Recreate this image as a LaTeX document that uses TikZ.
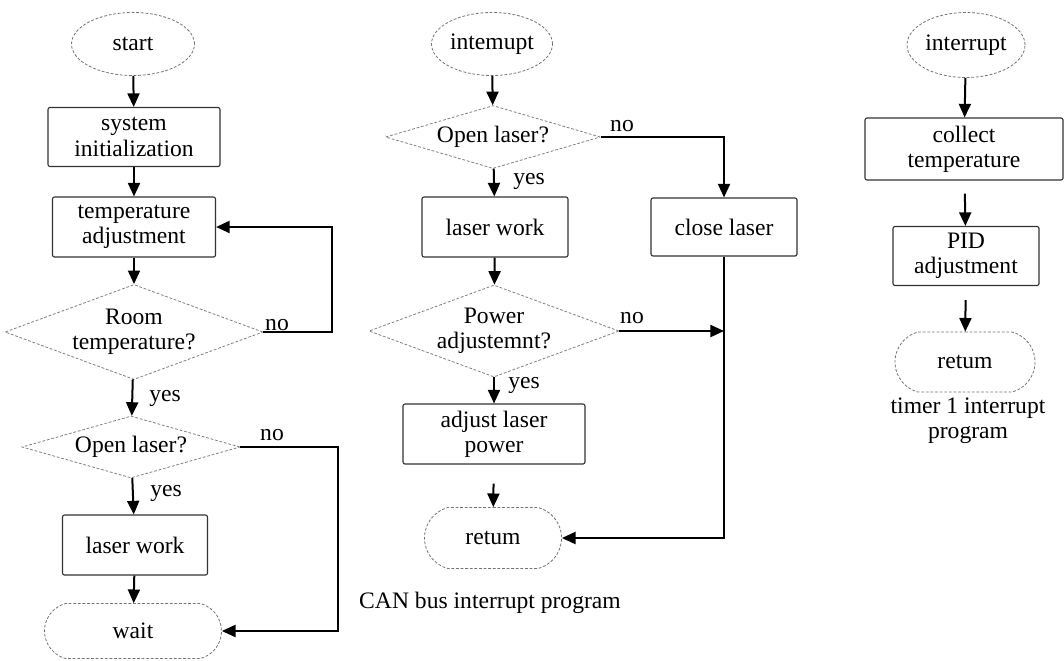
\documentclass[tikz,border=0pt]{standalone}
\usepackage{fontspec}
\setmainfont{Liberation Serif}
\usetikzlibrary{shapes.geometric,shapes.misc,arrows.meta}

\begin{document}
\begin{tikzpicture}[x=0.5pt,y=-0.5pt,
  font=\fontsize{11.8}{12.6}\selectfont,
  term/.style={ellipse,draw=black!55,dash pattern=on 1.4pt off 0.9pt,line width=0.4pt,inner sep=0pt},
  procbox/.style={rectangle,draw=black!80,line width=0.55pt,rounded corners=1pt,align=center,inner sep=1pt},
  decision/.style={diamond,draw=black!50,dash pattern=on 1.4pt off 0.9pt,line width=0.4pt,align=center,inner sep=0pt},
  stopbox/.style={rounded rectangle,rounded rectangle arc length=150,draw=black!55,dash pattern=on 1.4pt off 0.9pt,line width=0.4pt,inner sep=0pt},
  arr/.style={-{Triangle[length=6.8pt,width=6pt]},line width=1pt},
  lbl/.style={inner sep=0pt}]
\useasboundingbox (0,0) rectangle (1064,660);

% ---- main program ----
\node[term,minimum width=61.5pt,minimum height=31.5pt] (st) at (133,44) {start};
\node[procbox,minimum width=86pt,minimum height=29.5pt] (si) at (134,137) {system\\initialization};
\node[procbox,minimum width=81.5pt,minimum height=30pt] (ta) at (134,227) {temperature\\adjustment};
\node[decision,aspect=2.72,minimum width=129pt,minimum height=47.5pt] (rt) at (134,332) {Room\\temperature?};
\node[decision,aspect=3.5,minimum width=109pt,minimum height=31pt] (ol1) at (131,447) {Open laser?};
\node[procbox,minimum width=72.5pt,minimum height=30pt] (lw1) at (135,545) {laser work};
\node[stopbox,minimum width=88.5pt,minimum height=27.5pt] (wt) at (133,631) {wait};

\coordinate (lp1) at (332,332);
\coordinate (lp2) at (338,447);

\draw[arr] (st) -- (si);
\draw[arr] (si) -- (ta);
\draw[arr] (ta) -- (rt);
\draw[arr] (rt) -- (ol1);
\draw[arr] (ol1) -- (lw1);
\draw[arr] (lw1) -- (wt);
\draw[arr] (rt.east) -- (lp1) |- (ta.east);
\draw[arr] (ol1.east) -- (lp2) |- (wt.east);

\node[lbl] (n1) at (277,325) {no};
\node[lbl] (y1) at (165,398) {yes};
\node[lbl] (n2) at (272,435) {no};
\node[lbl] (y2) at (166,493) {yes};

% ---- CAN bus interrupt program ----
\node[term,minimum width=60.5pt,minimum height=31.5pt] (it2) at (492,44) {intemupt};
\node[decision,aspect=3.4,minimum width=107.5pt,minimum height=31.5pt] (ol2) at (493,137) {Open laser?};
\node[procbox,minimum width=73pt,minimum height=30pt] (lw2) at (495,227) {laser work};
\node[procbox,minimum width=73pt,minimum height=29pt] (cl) at (724,227) {close laser};
\node[decision,aspect=2.72,minimum width=125pt,minimum height=46pt] (pa) at (494,331) {Power\\adjustemnt?};
\node[procbox,minimum width=91pt,minimum height=30pt] (alp) at (494,434) {adjust laser\\power};
\node[stopbox,minimum width=68.5pt,minimum height=30.5pt] (rt2) at (493,538) {retum};
\node[lbl] (cap2) at (490,603) {CAN bus interrupt program};

\draw[arr] (it2) -- (ol2);
\draw[arr] (ol2) -- (lw2);
\draw[arr] (lw2) -- (pa);
\draw[arr] (pa) -- (alp);
\draw[arr,shorten <=9.5pt] (alp) -- (rt2);
\draw[arr] (ol2.east) -| (cl.north);
\draw[arr] (pa.east) -- (pa.east -| cl.south);
\draw[arr] (cl.south) |- (rt2.east);

\node[lbl] (n3) at (622,126) {no};
\node[lbl] (y3) at (529,181) {yes};
\node[lbl] (n4) at (632,318) {no};
\node[lbl] (y4) at (524,385) {yes};

% ---- timer 1 interrupt program ----
\node[term,minimum width=59pt,minimum height=32.5pt] (it3) at (966,45) {interrupt};
\node[procbox,minimum width=99pt,minimum height=31pt] (ct) at (964,149) {collect\\temperature};
\node[procbox,minimum width=73pt,minimum height=29.5pt] (pid) at (966,256) {PID\\adjustment};
\node[stopbox,minimum width=70pt,minimum height=30pt] (rt3) at (965,362) {retum};
\node[lbl,align=center] (cap3) at (968,421) {timer 1 interrupt\\program};

\draw[arr] (it3) -- (ct);
\draw[arr,shorten <=6.5pt] (ct) -- (pid);
\draw[arr,shorten <=7pt] (pid) -- (rt3);
\end{tikzpicture}
\end{document}
